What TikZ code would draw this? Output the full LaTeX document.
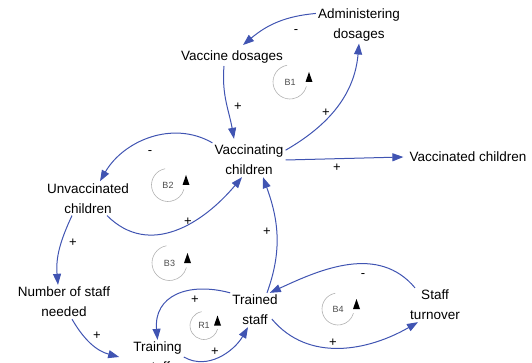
\documentclass[tikz,border=0pt]{standalone}
\usepackage{fontspec}
\setmainfont{Liberation Sans}
\usepackage{tikz}
\usetikzlibrary{arrows.meta}
\definecolor{linkblue}{RGB}{64,84,178}
\newcommand{\varfont}{\fontsize{13.5}{20}\selectfont}
\tikzset{var/.style={align=center,inner sep=2pt,font=\varfont},
  sgn/.style={inner sep=0pt,font=\fontsize{13}{14}\selectfont},
  looplbl/.style={inner sep=0pt,font=\fontsize{9}{10}\selectfont,text=black!70},
  loopc/.style={draw=black!30,line width=0.6pt},
  link/.style={draw=linkblue,line width=1pt,-{Triangle[length=11pt,width=8pt]}}}

\begin{document}
\begin{tikzpicture}[x=1pt,y=1pt]
\useasboundingbox (0,0) rectangle (532,-363); \clip (0,0) rectangle (532,-363);
% variables
\node[var] (adm) at (359,-25){Administering\\dosages}; \node[var] (vd) at (232,-57.5){Vaccine dosages};
\node[var] (vc) at (249,-160){Vaccinating\\children}; \node[var] (vdc) at (468,-157){Vaccinated children};
\node[var] (unv) at (88,-198.4){Unvaccinated\\children}; \node[var] (nsn) at (64,-302){Number of staff\\needed};
\node[var] (ts) at (255,-310){Trained\\staff}; \node[var] (sto) at (435,-305){Staff\\turnover};
\node[var] (trn) at (157.5,-357){Training\\staff};
% links
\draw[link] (adm.165) to[out=185,in=40] ([xshift=11pt,yshift=4pt]vd.north);
\draw[link] ([xshift=-8pt]vd.south) to[out=265,in=100] ([xshift=-15pt,yshift=4pt]vc.north);
\draw[link] (vc.15) to[out=30,in=265] (adm.south);
\draw[link] (vc.east) -- ([xshift=-4pt]vdc.west);
\draw[link] (vc.north west) to[out=150,in=60] ([xshift=12pt]unv.north);
\draw[link] ([xshift=19pt]unv.south) to[out=-45,in=230,looseness=1.1] ([xshift=-7pt]vc.south);
\draw[link] ([xshift=-16pt]unv.south) to[out=245,in=95] ([xshift=-6pt]nsn.north);
\draw[link] ([xshift=12pt]ts.north) to[out=70,in=290] ([xshift=14pt]vc.south);
\draw[link] ([xshift=-20pt]sto.north) to[out=130,in=25] ([xshift=-10pt]ts.north east);
\draw[link] ([xshift=-8pt]ts.-20) to[out=-50,in=210] ([xshift=-17pt]sto.south);
\draw[link] ([xshift=8pt]nsn.south) to[out=-60,in=165] ([xshift=-12pt]trn.west);
\draw[link] (ts.north west) to[out=165,in=95,looseness=1.3] (trn.north);
\draw[link] (trn.east) to[out=-30,in=240] ([xshift=-7pt]ts.south);
% polarities
\node[sgn] (s1) at (296,-32){-}; \node[sgn] (s2) at (238,-107){+}; \node[sgn] (s3) at (326,-113){+};
\node[sgn] (s4) at (150,-153){-}; \node[sgn] (s5) at (188,-222){+}; \node[sgn] (s6) at (337,-168){+};
\node[sgn] (s7) at (73,-243){+}; \node[sgn] (s8) at (267,-232){+}; \node[sgn] (s9) at (363,-276){-};
\node[sgn] (s10) at (333,-343){+}; \node[sgn] (s11) at (97,-336){+}; \node[sgn] (s12) at (195,-300){+};
\node[sgn] (s13) at (215,-352){+};
% loop markers
\node[looplbl] (b1) at (290,-82){B1}; \draw[loopc] (b1.center) ++(100:17pt) arc[start angle=100,end angle=345,radius=17pt];
\fill ([xshift=19pt]b1.center) +(-3.5,0) -- +(3.5,0) -- +(0,10) -- cycle;
\node[looplbl] (b2) at (168,-185){B2}; \draw[loopc] (b2.center) ++(100:16.5pt) arc[start angle=100,end angle=345,radius=16.5pt];
\fill ([xshift=18pt]b2.center) +(-3.5,0) -- +(3.5,0) -- +(0,10) -- cycle;
\node[looplbl] (b3) at (169.5,-263){B3}; \draw[loopc] (b3.center) ++(100:17.5pt) arc[start angle=100,end angle=345,radius=17.5pt];
\fill ([xshift=18pt]b3.center) +(-3.5,0) -- +(3.5,0) -- +(0,10) -- cycle;
\node[looplbl] (r1) at (204,-325.5){R1}; \draw[loopc] (r1.center) ++(100:14pt) arc[start angle=100,end angle=345,radius=14pt];
\fill ([xshift=13.5pt]r1.center) +(-3.5,0) -- +(3.5,0) -- +(0,10) -- cycle;
\node[looplbl] (b4) at (338,-309){B4}; \draw[loopc] (b4.center) ++(100:16pt) arc[start angle=100,end angle=345,radius=16pt];
\fill ([xshift=18.5pt]b4.center) +(-3.5,0) -- +(3.5,0) -- +(0,10) -- cycle;
\end{tikzpicture}
\end{document}
